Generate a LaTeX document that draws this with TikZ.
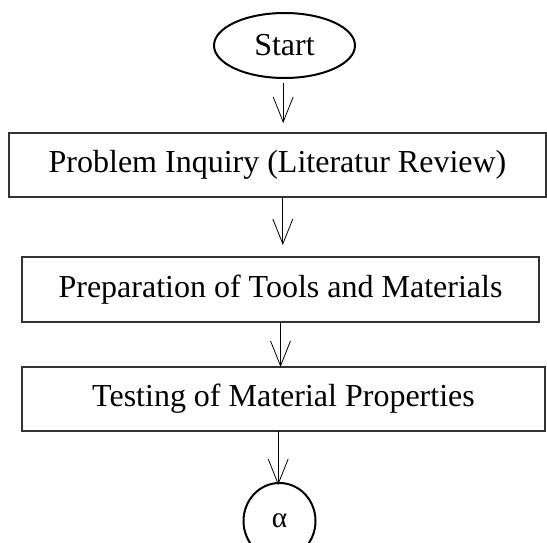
\documentclass[tikz,border=0pt]{standalone}
\usepackage{fontspec}
\setmainfont{Liberation Serif}
\usetikzlibrary{arrows.meta,shapes.geometric}
\begin{document}
\begin{tikzpicture}[x=0.75pt,y=-0.75pt,
  every node/.style={inner sep=0pt,outer sep=0pt,font=\fontsize{24}{29}\selectfont},
  stepbox/.style={draw=black!80,line width=0.8pt,rectangle},
  terminal/.style={draw,line width=1.5pt,ellipse},
  flow/.style={line width=0.6pt,-{Straight Barb[length=18.75pt,width=15pt,line width=0.6pt]}}]
\useasboundingbox (0,0) rectangle (547,543);

% terminals
\node[terminal,minimum width=105.75pt,minimum height=48.75pt] (start) at (284.5,45.5) {Start};
\node[terminal,minimum width=54pt,minimum height=57pt,font=\fontsize{22}{26}\selectfont] (alpha) at (279.5,521) {α};

% process steps
\node[stepbox,minimum width=402.75pt,minimum height=48pt] (b1) at (277.5,165) {Problem Inquiry (Literatur Review)};
\node[stepbox,minimum width=387.75pt,minimum height=48.75pt] (b2) at (280.5,289.5) {Preparation of Tools and Materials};
\node[stepbox,minimum width=392.25pt,minimum height=48pt] (b3) at (283.5,399) {Testing of Material Properties};

% connectors
\draw[flow,shorten <=3.75pt,shorten >=7.5pt] ([xshift=-1pt]start.south) -- ([xshift=-1pt]start.south |- b1.north);
\draw[flow,shorten >=9pt] ([xshift=4pt]b1.south) -- ([xshift=4pt]b1.south |- b2.north);
\draw[flow] (b2.south) -- (b2.south |- b3.north);
\draw[flow,shorten >=-1.5pt] ([xshift=-4pt]b3.south) -- ([xshift=-4pt]b3.south |- alpha.north);
\end{tikzpicture}
\end{document}
